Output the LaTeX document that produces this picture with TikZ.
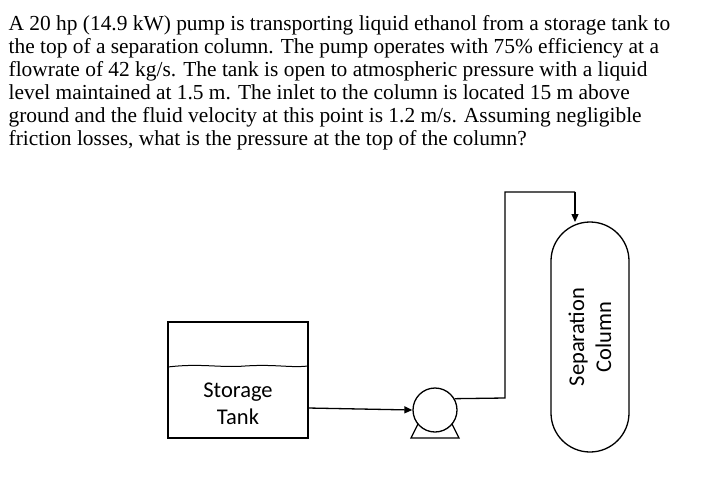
\documentclass[tikz,border=0pt]{standalone}
\usepackage{fontspec}
\setmainfont{Liberation Serif}
\newfontfamily\lab{Carlito}
\usetikzlibrary{arrows.meta}
\begin{document}
\begin{tikzpicture}[x=1pt,y=-1pt,line width=1.3pt,
  txt/.style={anchor=base west,inner sep=0,font=\fontsize{21.4}{23}\selectfont},
  lbl/.style={font=\lab\fontsize{22.5}{27}\selectfont,align=center},
  flow/.style={-{Triangle[length=8pt,width=7pt]}}]
\useasboundingbox (0,0) rectangle (704,499);
\node[txt] (l1) at (8,30) {A 20 hp (14.9 kW) pump is transporting liquid ethanol from a storage tank to};
\node[txt] (l2) at (8,53) {the top of a separation column. The pump operates with 75\% efficiency at a};
\node[txt] (l3) at (8,76) {flowrate of 42 kg/s. The tank is open to atmospheric pressure with a liquid};
\node[txt] (l4) at (8,99) {level maintained at 1.5 m. The inlet to the column is located 15 m above};
\node[txt] (l5) at (8,122) {ground and the fluid velocity at this point is 1.2 m/s. Assuming negligible};
\node[txt] (l6) at (8,145) {friction losses, what is the pressure at the top of the column?};
% tank
\node[draw,minimum width=140,minimum height=116,inner sep=0] (tank) at (238,380) {};
\draw[line width=1pt] (168,367) .. controls (200,363) and (220,368) .. (245,366) .. controls (275,364) and (290,368) .. (308,366);
\node[lbl] (tl) at (238,404) {Storage\\Tank};
% pump
\node[draw,circle,minimum size=44,inner sep=0] (pump) at (435,410) {};
\draw (418,424) -- (411,438) -- (459,438) -- (452,424);
\draw[flow] (308,408) -- (pump.west);
% column
\node[draw,rounded corners=39pt,minimum width=78,minimum height=230,inner sep=0] (col) at (590,337) {};
\node[lbl,rotate=90] (cl) at (590,337) {Separation\\Column};
\coordinate (c1) at (505,398);
\coordinate (c2) at (505,192);
\coordinate (c3) at (575,192);
\draw (pump.30) -- (c1) -- (c2) -- (c3);
\draw[flow] (c3) -- (575,222);
\end{tikzpicture}
\end{document}
